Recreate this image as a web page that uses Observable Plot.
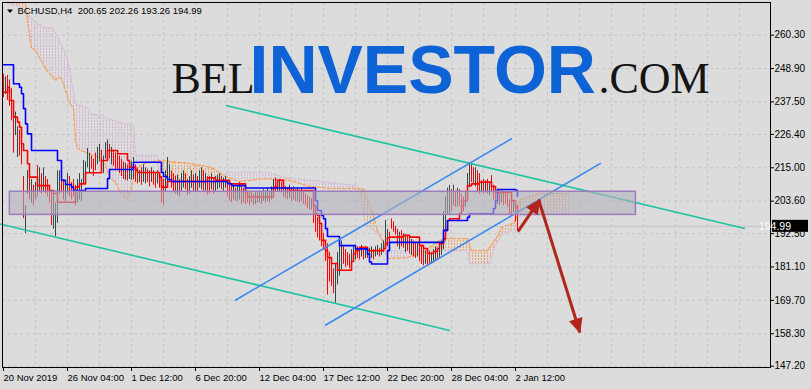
<!DOCTYPE html>
<html><head><meta charset="utf-8">
<script src="https://cdn.jsdelivr.net/npm/d3@7"></script>
<script src="https://cdn.jsdelivr.net/npm/@observablehq/plot@0.6"></script>
<style>
html,body{margin:0;padding:0;background:#dcdcdc;overflow:hidden;}
</style></head><body><div id="chart"></div>
<script>
// ---- Price bars (H4), bar index 0..257 ----
const barHigh = [
247,246,246.5,245,242,237,234,229,228,226,
212,202,214,212,211,209,210,215.8,215,213,
215,212,211,209,207,206,203,214,214,213,
211,210,213,212,210,211,209,211,213,211,
217.5,217,221.6,220,219,218,220,222,223,221,
219,223.6,224.5,223,222,221,220,219.5,219,218,
217,216.5,216,217.5,217,218.5,216,215,214,215,
216,215,214.5,214,215,214,213,214,213,212,
211,214,218.5,216,214,213,212,212.5,211,213,
214,213,211,212,214,212.5,213,212,214,215,
214,213,212,212,213,211.5,212,212.5,213,212,
211.5,212,210,209,208.5,209,208,208.5,210,209,
208,207.5,207,206.5,207,206,207,206.5,207,206.5,
207.5,207,208,207,208.5,211,211.5,210.5,211,210,
209,208.5,208,209,208,208.5,207.5,208,207,208,
207,206,205.5,205,204.5,202,199,198,196,195,
192.5,190,189,186,182,180.5,182,186,189,190,
188,187,186,185.5,187,188,187.5,188,187,188.5,
187.5,188,187,187.5,188,187,188,188.5,187.5,189,
190,197,194,193,197.5,196.5,195,194,193,193.5,
192.5,192,191.5,191,190.5,190,189.5,189,188,188.5,
187,186.5,186,186.5,186,187,188,187.5,189,190,
200,205,208,209,207.5,209,207,208,207.5,206,
205,207,213,216.4,216,215,215,214,213,210.5,
211,210.5,211,210,212.3,209,207.5,206.5,207,207.5,
207,206.5,206,204,203.5,203.5,201,202.26];
const barLow = [
239,240,238,236,231,220,226,218.5,219,216,
197.6,192.5,206,204,203,202,204,205,207,206,
207,206,205,203,195.3,194,191.5,196,206,206.5,
204,203.5,206,205,204,205,202,203,204,203.5,
209.6,210,215,213,214.5,212,214,216,217,214,
213,218,219.5,218,216,215.5,214,214.5,213,212,
211,210.7,210.5,211,210.7,211,210,209.5,210,209,
210,209.5,210,208.5,210,209,208,209.5,208,203,
202,207,209,210.5,208,206.5,206,205.5,205,207,
208,207.5,205.5,206,208,207,206.5,207,208,207.5,
206.5,207,205.5,206,207.5,206,207,207.5,208,207.5,
207,208,205,203.5,203,204,203.5,203.5,204,202.5,
203,202.5,203,202,203,202,202.5,203,203,202.5,
203.5,203,203.5,203,204,207,207,206.5,207,206.5,
205,204.5,204,204.5,203.5,204,203.5,203.5,203,203.5,
202.5,202,201,200.5,200.5,196,193,191,190,188,
186.8,183,171.5,176,174.5,172,168.7,175,178,180,
182,181,181.5,180.5,182.5,183,183.5,184,183.5,184.5,
183.5,184,184,184.5,184,183.5,184.5,185,184.5,185,
186,189,188,187.5,194,193,192,188,187,188,
187.5,186,186.5,185.5,185,184.5,184,184.5,183,182,
181.5,182,181.5,181.8,182,182.5,183,183.5,184,185,
187,190,199,199,200,202,201.5,201.5,202,200.5,
200,201.5,206.4,208.2,210,209.5,208.5,206.5,206,206.5,
206,206.5,206,205.5,206.5,204,203,202.5,202,203,
202,202.5,201.5,199,199,199.5,196.5,193.26];
const barUp = [
0,1,0,0,0,0,1,1,0,0, 0,1,1,0,1,0,1,0,1,0, 1,0,0,0,0,1,1,1,1,0, 0,1,1,0,0,0,0,1,1,1,
1,1,1,1,0,0,0,1,1,0, 1,1,1,0,1,0,0,0,0,0, 0,1,0,1,1,1,0,0,1,0, 1,1,0,0,1,0,0,1,0,0,
0,1,1,1,0,0,0,1,0,1, 1,0,0,1,1,0,1,0,1,1, 0,1,0,0,1,0,1,1,1,0, 1,1,0,0,0,1,0,1,1,0,
1,0,0,0,1,0,1,0,1,0, 1,1,1,0,1,1,0,0,1,0, 0,1,0,1,0,1,0,1,0,1, 0,0,0,0,1,0,0,0,0,0,
0,0,0,0,0,0,1,1,1,1, 0,0,0,0,1,1,1,0,0,1, 0,1,0,1,1,0,1,1,0,1, 1,1,1,0,0,0,0,0,1,0,
0,1,0,0,1,0,0,1,0,0, 0,1,0,0,1,1,1,0,1,1, 1,1,1,1,0,1,0,1,0,0, 0,1,1,1,0,0,1,0,0,1,
0,1,0,1,0,0,0,1,0,1, 0,0,0,0,0,1,0,0];
const lastClose = 194.99;

// ---- Ichimoku ----
const tenkanBar = [0,2,3,5,7,8,9,10,12,13,17,23,25,27,36,38,41,49,52,57,62,63,66,67,78,79,82,102,106,113,121,122,135,137,140,143,155,156,157,158,159,161,162,164,167,174,175,176,178,182,190,191,192,193,200,203,208,210,212,215,217,218,220,221,222,223,228,229,230,232,234,238,244,246,254,256,257];
const tenkanVal = [240.8,242.5,238.0,232.3,230.6,228.9,223.2,220.9,216.4,211.8,208.9,207.2,206.2,203.2,208.4,209.5,213.3,217.5,220.9,219.8,217.5,215.2,214.2,213.4,211.8,208.4,210.3,211.6,210.7,209.5,206.7,205.0,208.4,210.7,208.0,207.2,202.2,199.4,198.7,196.0,190.2,186.7,184.3,182.3,180.0,183.0,185.6,186.7,187.8,186.7,187.4,189.1,191.2,191.3,191.9,191.3,188.4,187.4,185.7,186.4,187.4,189.1,190.8,193.6,197.0,197.6,199.4,202.1,203.8,208.9,209.5,210.1,208.6,206.6,203.8,201.4,199.7];
const kijunBar = [0,5,8,9,10,11,12,14,27,29,31,34,35,41,52,53,65,79,80,82,84,112,114,121,156,157,159,160,161,162,168,176,182,183,184,192,193,220,222,232,233,245,246,247,256,257];
const kijunVal = [250.2,243.7,242.5,240.3,235.2,230.0,226.6,220.9,217.5,210.7,209.3,208.4,207.2,207.9,211.3,214.4,216.9,213.4,212.0,211.0,210.3,209.6,208.9,208.1,203.8,200.4,198.7,197.6,194.2,191.5,188.4,187.3,185.5,182.8,182.1,186.7,189.5,193.6,197.0,198.1,199.3,201.1,203.8,207.6,207.3,205.3];
const cloudBar = [0,3,7,9,11,12,14,16,18,21,25,26,27,29,31,32,33,34,35,36,37,41,42,43,48,50,51,52,53,56,58,61,62,64,65,66,67,71,77,78,93,104,111,112,118,131,133,140,143,153,160,163,176,178,180,181,182,185,187,188,190,192,193,202,211,215,218,221,232,233,234,242,243,246,247,249,255,256,257,258,262,268,283];
const spanA = [284,280.5,276,273,270.9,265.3,255.8,255.1,252.7,248.9,245.6,244.8,245.8,245.5,241.4,239.2,237.0,236.3,235.6,224.3,221.6,220.2,220.0,219.7,218.5,216.7,215.8,213.8,211.7,210.0,207.2,204.5,204.5,207.9,211.3,213.2,215.1,216.5,217.4,217.5,216.5,215.1,212.0,211.8,210.3,211.3,211.2,210.9,210.7,208.6,208.2,207.9,207.9,207.9,207.9,205.8,203.8,198.7,193.6,192.1,189.1,184.0,184.0,184.3,186.7,188.7,190.2,190.8,190.8,188.8,186.7,186.7,187.7,190.5,191.5,194.6,196.0,197.3,198.7,203.8,204.9,206.2,206.2];
const spanB = [273,271.1,270.4,269.5,268.0,267.5,266.0,264.6,263.8,262.8,262.6,261.0,259.5,256.8,254.0,252.3,248.5,244.8,241.0,237.0,236.3,235.8,235.6,233.5,233.0,232.9,232.3,231.8,231.6,231.0,230.5,230.0,229.9,229.6,229.4,219.2,219.2,219.2,219.2,210.7,210.1,209.6,212.9,213.4,213.4,213.4,213.4,211.7,211.5,210.8,210.3,210.0,208.9,207.2,200.0,195.3,195.0,193.8,192.5,191.9,190.0,188.0,186.7,186.7,186.7,186.7,186.7,186.7,186.7,182.3,182.3,182.3,182.3,188.4,189.5,191.9,193.9,194.2,196.5,198.7,198.8,199.0,199.4];

// ---- Drawn objects (bar index, price) ----
const channelBar1 = [111.2, -1.8];   const channelPrice1 = [236.3, 195.8];
const channelBar2 = [370.7, 223.2];  const channelPrice2 = [194.25, 159.4];
const trendBar1 = [115.7, 160.7];    const trendPrice1 = [169.65, 161.1];
const trendBar2 = [254.2, 298.7];    const trendPrice2 = [225.0, 216.6];
const zoneBars = [3.2, 316.2];       const zonePrices = [198.9, 206.8];
const arrowBar1 = [257.2, 267.7];    const arrowPrice1 = [193.2, 203.8];
const arrowBar2 = [268.2, 288.2];    const arrowPrice2 = [204.1, 158.7];

// ---- Axes ----
const yTicks = [147.2,158.3,169.7,181.1,192.5,203.6,215.0,226.4,237.5,248.9,260.3];
const xTickBars = [0,32,64,96,128,160,192,224,256];
const xTickLabels = ["20 Nov 2019","26 Nov 04:00","1 Dec 12:00","6 Dec 20:00","12 Dec 04:00","17 Dec 12:00","22 Dec 20:00","28 Dec 04:00","2 Jan 12:00"];
const symbolTitle = "BCHUSD,H4  200.65 202.26 193.26 194.99";

// ---- tables ----
const bars = barHigh.map((h, i) => ({i, high: h, low: barLow[i], up: barUp[i] === 1}));
const tenkan = tenkanBar.map((i, k) => ({i, v: tenkanVal[k]}));
const kijun = kijunBar.map((i, k) => ({i, v: kijunVal[k]}));
const cloud = cloudBar.map((i, k) => ({i, a: spanA[k], b: spanB[k]}));
const channel = channelBar1.map((b, k) => ({x1: b, y1: channelPrice1[k], x2: channelBar2[k], y2: channelPrice2[k]}));
const trend = trendBar1.map((b, k) => ({x1: b, y1: trendPrice1[k], x2: trendBar2[k], y2: trendPrice2[k]}));
const arrows = arrowBar1.map((b, k) => ({x1: b, y1: arrowPrice1[k], x2: arrowBar2[k], y2: arrowPrice2[k]}));
const zone = [{x1: zoneBars[0], x2: zoneBars[1], y1: zonePrices[0], y2: zonePrices[1]}];
const gridBars = d3.range(16, 384, 16);

const FONT = "'Liberation Sans', Arial, sans-serif";
const plot = Plot.plot({
  width: 811, height: 389,
  marginLeft: 2, marginRight: 41, marginTop: 2, marginBottom: 22,
  style: {background: "#dcdcdc", fontFamily: FONT, fontSize: "10px", color: "#000"},
  x: {type: "linear", domain: [-0.5, 383.5]},
  y: {type: "linear", domain: [146.76, 271.47]},
  marks: [
    Plot.ruleY(yTicks, {stroke: "#c6c6c6", strokeDasharray: "3,3"}),
    Plot.ruleX(gridBars, {stroke: "#c6c6c6", strokeDasharray: "3,3"}),
    Plot.text(["BEL"], {frameAnchor: "top-left", dx: 169, dy: 90, text: d => d, textAnchor: "start", lineAnchor: "bottom", fontFamily: "'Liberation Serif', 'Times New Roman', serif", fontSize: 44, fill: "#141414", ariaLabel: "wm-bel"}),
    Plot.text(["INVESTOR"], {frameAnchor: "top-left", dx: 247, dy: 90, text: d => d, textAnchor: "start", lineAnchor: "bottom", fontFamily: FONT, fontWeight: "bold", fontSize: 68, fill: "#0d62d5", ariaLabel: "wm-inv"}),
    Plot.text([".COM"], {frameAnchor: "top-left", dx: 596, dy: 90, text: d => d, textAnchor: "start", lineAnchor: "bottom", fontFamily: "'Liberation Serif', 'Times New Roman', serif", fontSize: 44, fill: "#141414", ariaLabel: "wm-com"}),
    Plot.areaY(cloud, {x: "i", y1: "b", y2: d => Math.max(d.a, d.b), fill: "url(#hatchA)", clip: true}),
    Plot.areaY(cloud, {x: "i", y1: "a", y2: d => Math.max(d.a, d.b), fill: "url(#hatchB)", clip: true}),
    Plot.line(cloud, {x: "i", y: "b", stroke: "#d8bfd8", strokeWidth: 1.3, strokeDasharray: "3,2", clip: true}),
    Plot.line(cloud, {x: "i", y: "a", stroke: "#f4a460", strokeWidth: 1.3, strokeDasharray: "3,2", clip: true}),
    Plot.ruleY([lastClose], {stroke: "#c3c3c3"}),
    Plot.ruleX(bars.filter(d => d.up), {x: "i", y1: "low", y2: "high", stroke: "#2f4a48"}),
    Plot.ruleX(bars.filter(d => !d.up), {x: "i", y1: "low", y2: "high", stroke: "#ff0000"}),
    Plot.line(tenkan, {x: "i", y: "v", curve: "step-after", stroke: "#ff0000", strokeWidth: 1.6}),
    Plot.line(kijun, {x: "i", y: "v", curve: "step-after", stroke: "#0000ff", strokeWidth: 1.6}),
    Plot.link(channel, {x1: "x1", y1: "y1", x2: "x2", y2: "y2", stroke: "#20c3a2", strokeWidth: 1.6}),
    Plot.link(trend, {x1: "x1", y1: "y1", x2: "x2", y2: "y2", stroke: "#3a88f2", strokeWidth: 1.6}),
    Plot.rect(zone, {x1: "x1", x2: "x2", y1: "y1", y2: "y2", fill: "#b2b2bc", fillOpacity: 0.6, stroke: "#9e7cbc", strokeWidth: 1.5}),
    Plot.link(arrows, {x1: "x1", y1: "y1", x2: "x2", y2: "y2", stroke: "#b3241c", strokeWidth: 3, markerEnd: "arrow", ariaLabel: "arrows"}),
    Plot.frame({stroke: "#000"}),
    Plot.axisY(yTicks, {anchor: "right", tickSize: 3, tickPadding: 1, tickFormat: d => d.toFixed(2), fontSize: 10, fill: "#000"}),
    Plot.axisX(xTickBars, {anchor: "bottom", tickSize: 4, tickPadding: 3, tickFormat: d => xTickLabels[xTickBars.indexOf(d)], textAnchor: "start", dx: 0, fontSize: 9.5, fill: "#000"}),
    Plot.text([symbolTitle], {frameAnchor: "top-left", dx: 15, dy: 5, text: d => d, textAnchor: "start", lineAnchor: "top", fontSize: 9.5, fill: "#000", ariaLabel: "title"})
  ]
});
document.getElementById("chart").appendChild(plot);

const svg = d3.select(plot);
// hatch patterns for the cloud
const defs = svg.insert("defs", ":first-child");
[["hatchA", "#f4a460"], ["hatchB", "#d4b6d4"]].forEach(([id, c]) => {
  const p = defs.append("pattern").attr("id", id).attr("patternUnits", "userSpaceOnUse")
    .attr("width", 3).attr("height", 3);
  p.append("rect").attr("x", 1).attr("y", 0).attr("width", 1).attr("height", 2).attr("fill", c);
});
// watermark widths
svg.select('g[aria-label="wm-bel"] text').attr("textLength", 73).attr("lengthAdjust", "spacingAndGlyphs");
svg.select('g[aria-label="wm-inv"] text').attr("textLength", 345).attr("lengthAdjust", "spacingAndGlyphs");
svg.select('g[aria-label="wm-com"] text').attr("textLength", 115).attr("lengthAdjust", "spacingAndGlyphs");
svg.select('g[aria-label="title"] text').style("white-space", "pre");
// filled arrowheads
svg.selectAll("marker").each(function() {
  const m = d3.select(this);
  m.attr("viewBox", "-15 -8 16 16").attr("markerWidth", 16).attr("markerHeight", 16)
   .attr("markerUnits", "userSpaceOnUse").attr("fill", "#b3241c").attr("stroke", "none");
  m.selectAll("path").attr("d", "M1,0L-14,-7L-14,7Z");
});
// title triangle + last price label (covers the 192.50 label as in the terminal)
const y = plot.scale("y");
svg.append("path").attr("d", "M7,9.5L13,9.5L10,13Z").attr("fill", "#000");
const yy = y.apply(lastClose);
svg.append("rect").attr("x", 772).attr("y", yy - 6).attr("width", 36).attr("height", 12).attr("fill", "#000");
svg.append("text").attr("x", 775).attr("y", yy + 4).attr("fill", "#ffffff")
  .attr("font-family", "'Liberation Sans', Arial, sans-serif").attr("font-size", "10.5px").text(lastClose.toFixed(2));
</script></body></html>
